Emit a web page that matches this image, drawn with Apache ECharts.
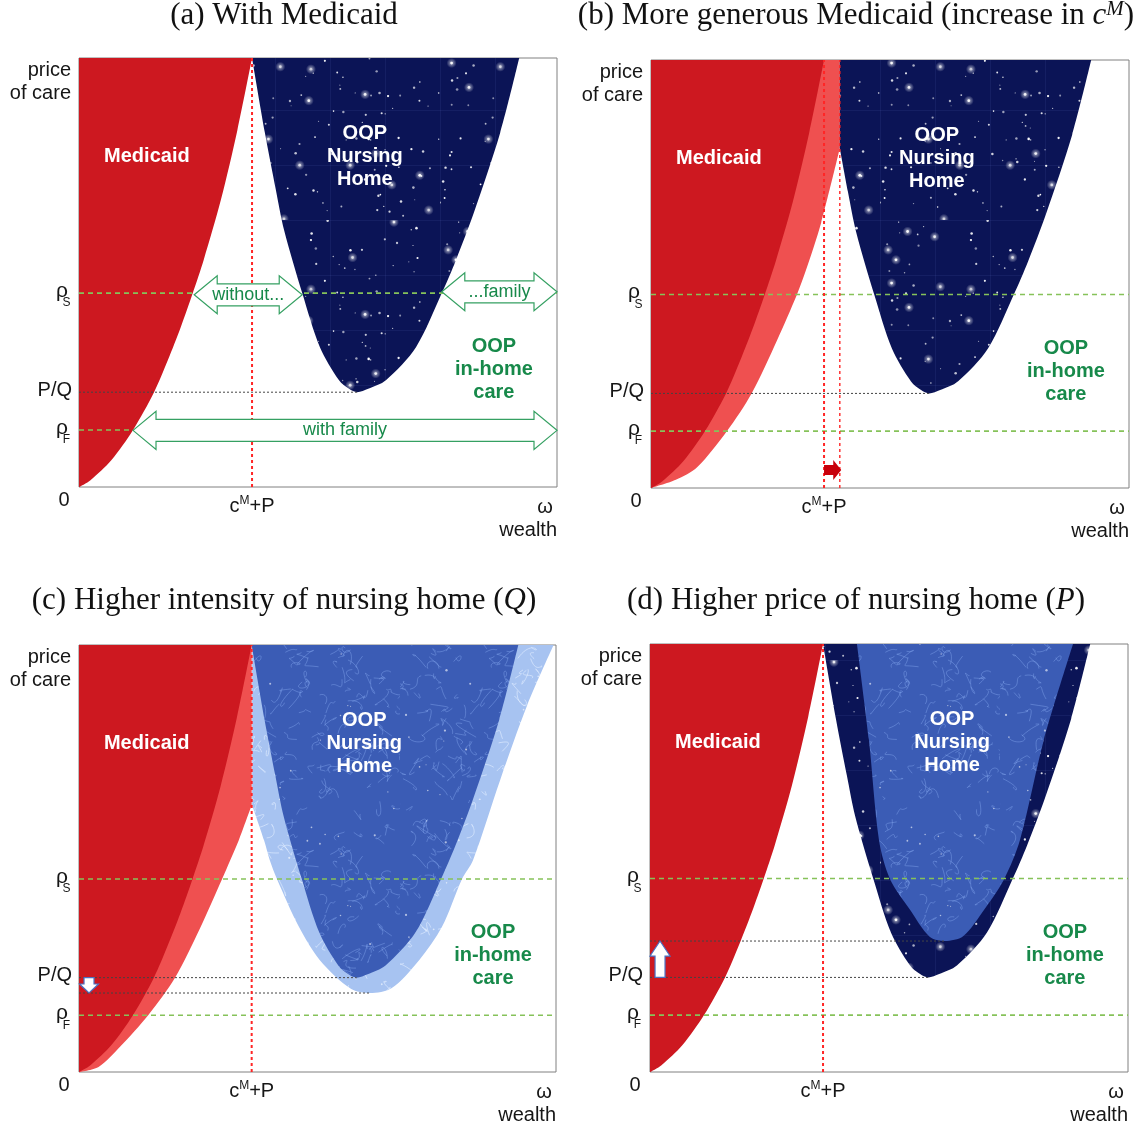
<!DOCTYPE html>
<html>
<head>
<meta charset="utf-8">
<script src="https://cdn.jsdelivr.net/npm/echarts@6/dist/echarts.min.js"></script>
<style>
html, body { margin: 0; padding: 0; background: #fff; }
#main { width: 1139px; height: 1131px; }
</style>
</head>
<body>
<div id="main"></div>
<script>
// everything is on a 0..100 scale of each plot box: wealth on x, price of care on y

// Medicaid frontier (dark red), same in all four panels
var medX = [0, 2.4, 6.8, 11.3, 15.7, 18.6, 21.3, 23.8, 26.1, 29.7, 33.1, 36.2];
var medY = [0, 1.6, 6.3, 13.3, 22.1, 29.6, 37.3, 45.2, 53.0, 67.0, 83.0, 100];

// new Medicaid frontier in (b) and (c) (light red)
var medBX = [0, 5.2, 9.7, 15.9, 21.1, 26.4, 30.5, 32.3, 35.6, 39.5];
var medBY = [0, 1.9, 4.9, 13.3, 22.2, 34.6, 45.1, 50.5, 62.0, 79.4];
var medCX = [0, 4.1, 8.6, 14.5, 20.1, 25.3, 30.0, 31.7, 33.5, 36.2];
var medCY = [0, 1.2, 5.9, 13.3, 22.0, 33.5, 45.2, 49.6, 54.3, 62.5];

// nursing home U (panel a); reused as inner U in (c) and outer U in (d)
var nhX = [36.2, 38.9, 41.2, 42.9, 46.7, 50.4, 54.4, 56.5, 58.2, 60.5, 64.2, 70.5, 75.9, 78.9, 82.6, 88.1, 92.1];
var nhY = [100, 82.5, 69.2, 59.9, 45.2, 32.6, 24.9, 22.9, 22.1, 22.9, 24.9, 32.6, 45.2, 53.0, 63.9, 82.5, 100];
// (b): cut at the new c^M+P
var nhBX = [39.5, 41.2, 42.9, 46.7, 50.4, 54.4, 56.5, 58.2, 60.5, 64.2, 70.5, 75.9, 78.9, 82.6, 88.1, 92.1];
var nhBY = [79.4, 69.2, 59.9, 45.2, 32.6, 24.9, 22.9, 22.1, 22.9, 24.9, 32.6, 45.2, 53.0, 63.9, 82.5, 100];
// (c): wider U after higher Q
var nhCX = [36.3, 38.8, 40.0, 41.5, 46.1, 50.5, 57.0, 61.0, 65.5, 71.3, 76.1, 80.3, 82.6, 88.3, 94.0, 99.5];
var nhCY = [62.5, 54.3, 49.6, 45.2, 34.0, 26.2, 19.5, 18.5, 19.6, 26.2, 34.0, 45.2, 49.6, 68.4, 86.0, 100];
// (d): narrower U after higher P
var nhDX = [43.3, 45.8, 47.9, 50.2, 54.4, 58.5, 61.7, 65.5, 69.9, 74.1, 77.4, 82.4, 88.5];
var nhDY = [100, 77.6, 54.2, 45.1, 37.9, 31.6, 30.6, 31.7, 37.9, 45.1, 54.2, 77.6, 100];

// tick positions
var rhoS = 45.2, pq = 22.1, rhoF = 13.3, cmp = 36.2, cmpNew = 39.5;
var pqC = 18.5, pqD = 30.6;
var vertexA = 58.2, vertexC = 61.0, vertexD = 61.7;

// double arrows in (a): [from x, to x, y]
var arrowsA = [[24.1, 46.7, 44.8], [75.9, 100, 45.5], [11.3, 100, 13.2]];
var arrowText = ['without...', '...family', 'with family'];

var titles = [
  '(a) With Medicaid',
  '(b) More generous Medicaid (increase in {i|c}{sup|M})',
  '(c) Higher intensity of nursing home ({i|Q})',
  '(d) Higher price of nursing home ({i|P})'
];
var titleX = [284, 856, 284, 856], titleY = [16, 16, 601, 601];

var RED = '#cd1820', PINK = '#ef5050', GREEN_TXT = '#17894a', ARROW_GREEN = '#35a062';
var DASH_GREEN = '#86c25a', DOT_RED = '#ff2626';
var SANS = '"Liberation Sans", Arial, sans-serif';
var SERIF = '"Liberation Serif", "Times New Roman", serif';

var grids = [
  { left: 79, top: 58, width: 478, height: 429 },
  { left: 651, top: 60, width: 478, height: 428 },
  { left: 79, top: 645, width: 477, height: 427 },
  { left: 650, top: 644, width: 478, height: 428 }
];

function pairs(xs, ys) { return xs.map(function (x, i) { return [x, ys[i]]; }); }

// textures
function rng(seed) {
  var s = seed;
  return function () { s = (s * 16807) % 2147483647; return (s - 1) / 2147483646; };
}
function starTile(base, seed) {
  var n = 220, c = document.createElement('canvas');
  c.width = n; c.height = n;
  var ctx = c.getContext('2d'), r = rng(seed);
  ctx.fillStyle = base; ctx.fillRect(0, 0, n, n);
  ctx.strokeStyle = 'rgba(140,160,255,0.08)'; ctx.lineWidth = 1;
  for (var k = 0; k < n; k += 55) {
    ctx.beginPath(); ctx.moveTo(k + 0.5, 0); ctx.lineTo(k + 0.5, n);
    ctx.moveTo(0, k + 0.5); ctx.lineTo(n, k + 0.5); ctx.stroke();
  }
  for (var i = 0; i < 150; i++) {
    var x = r() * n, y = r() * n, big = r() < 0.15;
    if (big) {
      var g = ctx.createRadialGradient(x, y, 0, x, y, 5);
      g.addColorStop(0, 'rgba(255,255,255,0.65)');
      g.addColorStop(1, 'rgba(255,255,255,0)');
      ctx.fillStyle = g; ctx.fillRect(x - 5, y - 5, 10, 10);
    }
    ctx.fillStyle = 'rgba(255,255,255,' + (0.5 + r() * 0.5) + ')';
    ctx.beginPath(); ctx.arc(x, y, big ? 1.4 : 0.5 + r() * 0.8, 0, Math.PI * 2); ctx.fill();
  }
  return c;
}
function waterTile(base, line, seed) {
  var n = 200, c = document.createElement('canvas');
  c.width = n; c.height = n;
  var ctx = c.getContext('2d'), r = rng(seed);
  ctx.fillStyle = base; ctx.fillRect(0, 0, n, n);
  ctx.strokeStyle = line; ctx.lineWidth = 1;
  for (var i = 0; i < 170; i++) {
    var x = r() * n, y = r() * n;
    ctx.beginPath(); ctx.moveTo(x, y);
    ctx.bezierCurveTo(x + (r() - 0.5) * 24, y + (r() - 0.5) * 24, x + (r() - 0.5) * 24, y + (r() - 0.5) * 24,
      x + (r() - 0.5) * 28, y + (r() - 0.5) * 28);
    ctx.stroke();
  }
  ctx.fillStyle = 'rgba(255,255,255,0.6)';
  for (var j = 0; j < 30; j++) {
    ctx.beginPath(); ctx.arc(r() * n, r() * n, 0.5 + r() * 0.7, 0, Math.PI * 2); ctx.fill();
  }
  return c;
}
var stars = { image: starTile('#0b1456', 7), repeat: 'repeat' };
var water = { image: waterTile('#3b5cb5', 'rgba(140,175,245,0.40)', 11), repeat: 'repeat' };
var waterLight = { image: waterTile('#a7c3f1', 'rgba(225,237,255,0.65)', 23), repeat: 'repeat' };

// series helpers
function area(g, data, fill, z) {
  return {
    type: 'line', xAxisIndex: g, yAxisIndex: g, data: data, z: z,
    smooth: 0.3, symbol: 'none', silent: true,
    lineStyle: { width: 0, opacity: 0 },
    areaStyle: { color: fill, opacity: 1, origin: 'end' }
  };
}
function seg(g, data, color, width, type, z) {
  return {
    type: 'line', xAxisIndex: g, yAxisIndex: g, data: data, z: z,
    symbol: 'none', silent: true,
    lineStyle: { color: color, width: width, type: type }
  };
}
function guides(g, pqLevels) {
  var out = [
    seg(g, [[0, rhoS], [100, rhoS]], DASH_GREEN, 1.6, [5, 4], 5),
    seg(g, [[0, rhoF], [100, rhoF]], DASH_GREEN, 1.6, [5, 4], 5)
  ];
  pqLevels.forEach(function (p) {
    out.push(seg(g, [[0, p[0]], [p[1], p[0]]], '#444', 1, [2, 2], 5));
  });
  return out;
}
function vline(g, x, w) { return seg(g, [[x, 0], [x, 100]], DOT_RED, w, [3, 3], 6); }

function arrowPoly(s, e, sw, hw, hl) {
  var dx = e[0] - s[0], dy = e[1] - s[1], L = Math.sqrt(dx * dx + dy * dy);
  var ux = dx / L, uy = dy / L, nx = -uy, ny = ux;
  var bx = e[0] - ux * hl, by = e[1] - uy * hl;
  return [
    [s[0] + nx * sw, s[1] + ny * sw], [bx + nx * sw, by + ny * sw], [bx + nx * hw, by + ny * hw],
    [e[0], e[1]], [bx - nx * hw, by - ny * hw], [bx - nx * sw, by - ny * sw], [s[0] - nx * sw, s[1] - ny * sw]
  ];
}
function singleArrow(g, data, fill, stroke, sw, hw, hl) {
  return {
    type: 'custom', xAxisIndex: g, yAxisIndex: g, data: data, z: 8, silent: true,
    renderItem: function (params, api) {
      var s = api.coord([api.value(0), api.value(1)]);
      var e = api.coord([api.value(2), api.value(3)]);
      return {
        type: 'polygon', shape: { points: arrowPoly(s, e, sw, hw, hl) },
        style: { fill: fill, stroke: stroke, lineWidth: stroke ? 1.2 : 0 }
      };
    }
  };
}

var series = [];
// (a)
series.push(area(0, pairs(nhX, nhY), stars, 2));
series.push(area(0, pairs(medX, medY), RED, 3));
series = series.concat(guides(0, [[pq, vertexA]]));
series.push(vline(0, cmp, 2));
series.push({
  type: 'custom', xAxisIndex: 0, yAxisIndex: 0, data: arrowsA, z: 8, silent: true,
  renderItem: function (params, api) {
    var a = api.coord([api.value(0), api.value(2)]);
    var b = api.coord([api.value(1), api.value(2)]);
    var y = a[1], hl = 23, hh = 19, sh = 11;
    var pts = [[a[0], y], [a[0] + hl, y - hh], [a[0] + hl, y - sh], [b[0] - hl, y - sh], [b[0] - hl, y - hh],
      [b[0], y], [b[0] - hl, y + hh], [b[0] - hl, y + sh], [a[0] + hl, y + sh], [a[0] + hl, y + hh]];
    return {
      type: 'group', children: [
        { type: 'polygon', shape: { points: pts }, style: { fill: '#fff', stroke: ARROW_GREEN, lineWidth: 1.2 } },
        { type: 'text', x: (a[0] + b[0]) / 2, y: y,
          style: { text: arrowText[params.dataIndex], fill: GREEN_TXT, font: '18px ' + SANS, align: 'center', verticalAlign: 'middle' } }
      ]
    };
  }
});
// (b)
series.push(area(1, pairs(medBX, medBY), PINK, 1));
series.push(area(1, pairs(nhBX, nhBY), stars, 2));
series.push(area(1, pairs(medX, medY), RED, 3));
series = series.concat(guides(1, [[pq, vertexA]]));
series.push(vline(1, cmp, 2));
series.push(vline(1, cmpNew, 1.4));
series.push(singleArrow(1, [[cmp, 4.2, cmpNew + 0.3, 4.2]], '#c8000b', null, 5, 10, 8));
// (c)
series.push(area(2, pairs(medCX, medCY), PINK, 1));
series.push(area(2, pairs(medX, medY), RED, 3));
series.push(area(2, pairs(nhCX, nhCY), waterLight, 1));
series.push(area(2, pairs(nhX, nhY), water, 2));
series = series.concat(guides(2, [[pq, vertexA], [pqC, vertexC]]));
series.push(vline(2, cmp, 2));
series.push(singleArrow(2, [[2.1, pq, 2.1, pqC]], '#fff', '#4a72c4', 5, 9.5, 9));
// (d)
series.push(area(3, pairs(nhX, nhY), stars, 2));
series.push(area(3, pairs(nhDX, nhDY), water, 3));
series.push(area(3, pairs(medX, medY), RED, 3));
series = series.concat(guides(3, [[pq, vertexA], [pqD, vertexD]]));
series.push(vline(3, cmp, 2));
series.push(singleArrow(3, [[2.1, pq, 2.1, pqD]], '#fff', '#4a72c4', 5, 10, 15));

var chart = echarts.init(document.getElementById('main'));
chart.setOption({
  animation: false,
  grid: grids.map(function (g) {
    return { left: g.left, top: g.top, width: g.width, height: g.height, show: true, borderColor: '#808080', borderWidth: 1, backgroundColor: 'transparent' };
  }),
  xAxis: grids.map(function (g, i) { return { type: 'value', gridIndex: i, min: 0, max: 100, show: false }; }),
  yAxis: grids.map(function (g, i) { return { type: 'value', gridIndex: i, min: 0, max: 100, show: false }; }),
  series: series
});

// labels
var gfx = [];
function t(x, y, text, font, fill, align, more) {
  var el = { type: 'text', x: x, y: y, z: 100, silent: true,
    style: { text: text, font: font, fill: fill, align: align || 'center', verticalAlign: 'middle' } };
  if (more) Object.keys(more).forEach(function (k) { el.style[k] = more[k]; });
  gfx.push(el);
}
var regionAt = { med: [14.2, 77], nh: [[59.8, 77], [59.8, 77], [59.8, 77], [63.2, 77]], oop: [86.8, 27.3] };
var ink = '#161616', f20 = '20px ' + SANS;
grids.forEach(function (g, i) {
  var L = g.left, R = g.left + g.width, T = g.top, B = g.top + g.height;
  var p = function (x, y) { return chart.convertToPixel({ gridIndex: i }, [x, y]); };
  t(L - 8, T + 12, 'price', f20, ink, 'right');
  t(L - 8, T + 35, 'of care', f20, ink, 'right');
  var ys = p(0, rhoS)[1], yf = p(0, rhoF)[1], yq = p(0, pq)[1];
  t(L - 17, ys - 2, 'ρ', '21px ' + SANS, ink);
  t(L - 12.5, ys + 10, 'S', '12px ' + SANS, ink);
  t(L - 17, yf - 2, 'ρ', '21px ' + SANS, ink);
  t(L - 12.5, yf + 10, 'F', '12px ' + SANS, ink);
  t(L - 7, yq - 2, 'P/Q', f20, ink, 'right');
  t(L - 15, B + 13, '0', f20, ink);
  t(p(cmp, 0)[0], B + 19, '{n|c}{s|M}{n|+P}', f20, ink, 'center', {
    rich: { n: { fontSize: 20, fontFamily: SANS, lineHeight: 22, fill: ink },
            s: { fontSize: 12, fontFamily: SANS, lineHeight: 13, verticalAlign: 'top', fill: ink } }
  });
  t(R - 12, B + 20, 'ω', f20, ink);
  t(R, B + 43, 'wealth', f20, ink, 'right');
  var m = p(regionAt.med[0], regionAt.med[1]);
  t(m[0], m[1], 'Medicaid', 'bold 20px ' + SANS, '#fff');
  var n = p(regionAt.nh[i][0], regionAt.nh[i][1]);
  t(n[0], n[1], 'OOP\nNursing\nHome', 'bold 20px ' + SANS, '#fff', 'center', { lineHeight: 23 });
  var o = p(regionAt.oop[0], regionAt.oop[1]);
  t(o[0], o[1], 'OOP\nin-home\ncare', 'bold 20px ' + SANS, GREEN_TXT, 'center', { lineHeight: 23 });
  t(titleX[i], titleY[i], titles[i], '31px ' + SERIF, '#111', 'center', {
    lineHeight: 34,
    rich: { i: { fontSize: 31, fontFamily: SERIF, fontStyle: 'italic', lineHeight: 34, fill: '#111' },
            sup: { fontSize: 21, fontFamily: SERIF, fontStyle: 'italic', lineHeight: 20, verticalAlign: 'top', fill: '#111' } }
  });
});
chart.setOption({ graphic: gfx });
</script>
</body>
</html>
